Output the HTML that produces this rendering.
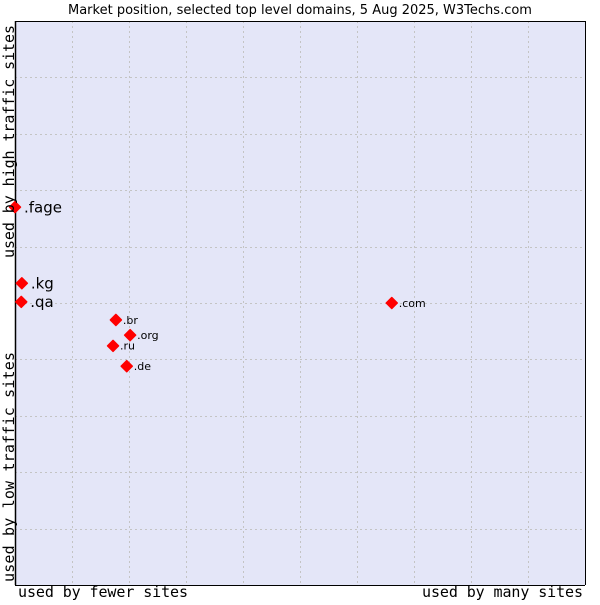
<!DOCTYPE html>
<html><head><meta charset="utf-8"><style>
body{margin:0;background:#fff;}
svg text{font-family:"DejaVu Sans","Liberation Sans",sans-serif;}
</style></head><body>
<svg width="600" height="600">
<text x="300" y="14" text-anchor="middle" font-size="13" fill="#000">Market position, selected top level domains, 5 Aug 2025, W3Techs.com</text>
<rect x="15" y="21" width="570" height="564" fill="#e4e6f8"/>
<g id="grid"></g>
<line x1="15.5" y1="21" x2="15.5" y2="585" stroke="#000" stroke-width="1.5"/>
<line x1="15" y1="21.5" x2="585" y2="21.5" stroke="#000"/>
<line x1="585.5" y1="21" x2="585.5" y2="585" stroke="#000"/>
<line x1="15" y1="585.5" x2="585" y2="585.5" stroke="#000"/>
<g id="points"></g>
<text x="18" y="597" font-size="15" fill="#000" textLength="170" style="font-family:'DejaVu Sans Mono',monospace">used by fewer sites</text>
<text x="583" y="597" text-anchor="end" font-size="15" fill="#000" textLength="161" style="font-family:'DejaVu Sans Mono',monospace">used by many sites</text>
<text transform="translate(14,582) rotate(-90)" font-size="15" fill="#000" textLength="230" style="font-family:'DejaVu Sans Mono',monospace">used by low traffic sites</text>
<text transform="translate(14,258) rotate(-90)" font-size="15" fill="#000" textLength="233" style="font-family:'DejaVu Sans Mono',monospace">used by high traffic sites</text>
</svg>
<script>
const labels=[".fage",".kg",".qa",".com",".br",".org",".ru",".de"];
const xValues=[0,1.2,1.1,66.1,17.7,20.2,17.2,19.6];
const yValues=[67.0,53.5,50.2,50.0,47.0,44.3,42.4,38.8];
const labelSizes=[15,15,15,11,11,11,11,11];
const X0=15,X1=585,Y0=585,Y1=21;
function sx(v){return X0+(X1-X0)*v/100;}
function sy(v){return Y0-(Y0-Y1)*v/100;}
const ns="http://www.w3.org/2000/svg";
const grid=document.getElementById('grid');
for(let i=1;i<10;i++){
 const l=document.createElementNS(ns,'line');
 const x=Math.round(sx(i*10))+0.5;
 l.setAttribute('x1',x);l.setAttribute('x2',x);l.setAttribute('y1',Y1);l.setAttribute('y2',Y0);
 l.setAttribute('stroke','#c4c4c4');l.setAttribute('stroke-dasharray','2,3');
 
 
 grid.appendChild(l);
 const h=document.createElementNS(ns,'line');
 const y=Math.round(sy(i*10))+0.5;
 h.setAttribute('x1',X0);h.setAttribute('x2',X1);h.setAttribute('y1',y);h.setAttribute('y2',y);
 h.setAttribute('stroke','#c4c4c4');h.setAttribute('stroke-dasharray','2,3');
 
 
 grid.appendChild(h);
}
const pts=document.getElementById('points');
labels.forEach((lab,i)=>{
 const x=sx(xValues[i]),y=sy(yValues[i]);
 const d=document.createElementNS(ns,'polygon');
 d.setAttribute('points',`${x},${y-5.5} ${x+5.5},${y} ${x},${y+5.5} ${x-5.5},${y}`);
 d.setAttribute('fill','#ff0000');
 d.setAttribute('stroke','#ff0000');
 d.setAttribute('stroke-linejoin','round');
 d.setAttribute('stroke-width','1.5');
 
 
 pts.appendChild(d);
 const t=document.createElementNS(ns,'text');
 const s=labelSizes[i];
 t.setAttribute('x',x+(s>12?9:7));t.setAttribute('y',y+s*0.35);
 t.setAttribute('font-size',s);t.setAttribute('fill','#000');
 t.textContent=lab;
 
 
 pts.appendChild(t);
});
</script>
</body></html>
